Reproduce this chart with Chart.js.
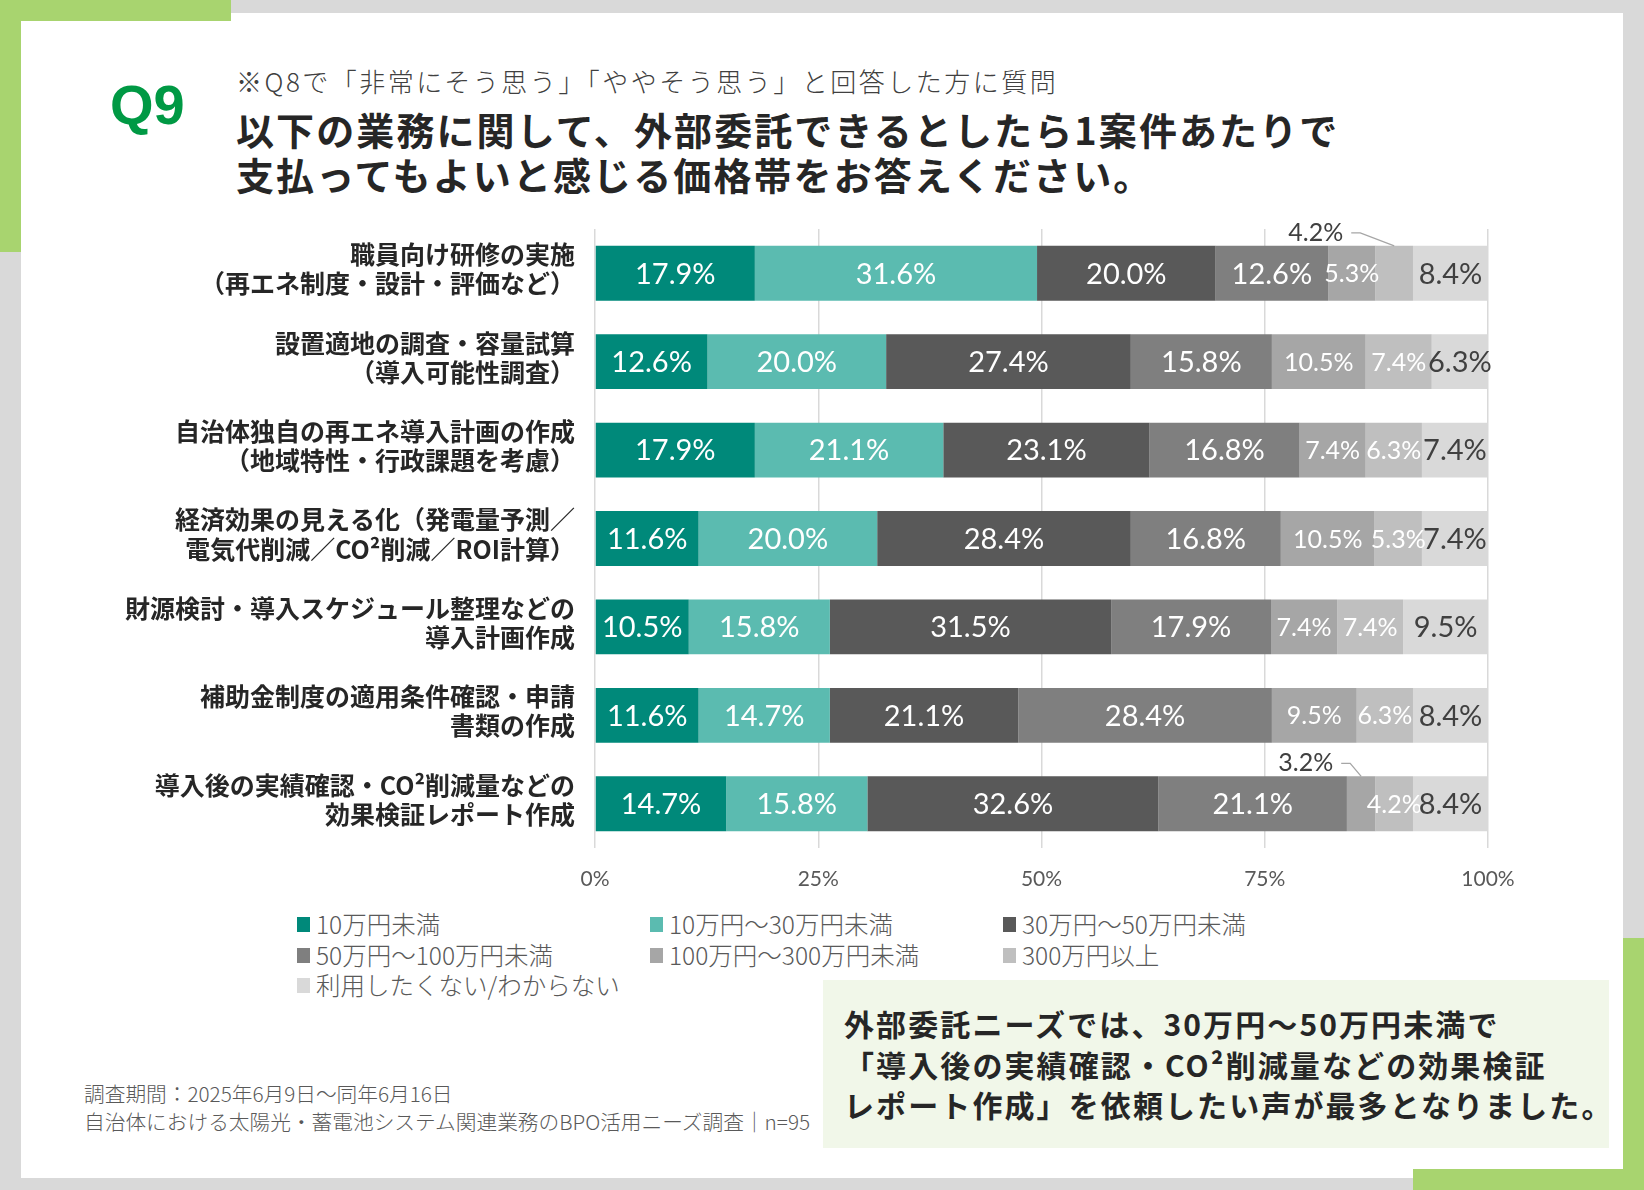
<!DOCTYPE html>
<html lang="ja"><head><meta charset="utf-8">
<script src="https://cdn.jsdelivr.net/npm/chart.js@4.4.1/dist/chart.umd.min.js"></script>
<style>
html,body{margin:0;padding:0;}
body{width:1644px;height:1190px;background:#d9d9d9;position:relative;overflow:hidden;font-family:"Noto Sans CJK JP",sans-serif;}
.panel{position:absolute;left:21px;top:13px;width:1602px;height:1165px;background:#fff;}
.g{position:absolute;background:#a8d46f;}
.abs{position:absolute;white-space:nowrap;}
#q9{left:110px;top:77px;font:bold 56px/56px "Liberation Sans",Arial,sans-serif;color:#009944;}
#sub{left:236px;top:64px;font-weight:300;font-size:26px;line-height:34px;letter-spacing:2.5px;color:#404040;}
#title{left:236px;top:106px;font-weight:700;font-size:38px;line-height:45px;letter-spacing:2.1px;color:#262626;}
#chartWrap{position:absolute;left:40px;top:200px;width:1480px;height:700px;}
.lg{position:absolute;font-weight:300;font-size:24.5px;line-height:30px;color:#595959;white-space:nowrap;}
.lg i{position:absolute;left:-19px;top:8px;width:13px;height:15px;}
#foot{left:84px;top:1079px;font-weight:300;font-size:20.7px;line-height:28px;color:#595959;}
#box{position:absolute;left:823px;top:980px;width:786px;height:168px;background:#f1f7e9;}
#box div{position:absolute;left:21px;top:23px;font-weight:700;font-size:30px;line-height:40.5px;letter-spacing:2.1px;color:#262626;white-space:nowrap;}
</style></head>
<body>
<div class="panel"></div>
<div class="g" style="left:0;top:0;width:231px;height:21px"></div>
<div class="g" style="left:0;top:0;width:21px;height:252px"></div>
<div class="g" style="left:1623px;top:938px;width:21px;height:252px"></div>
<div class="g" style="left:1413px;top:1169px;width:231px;height:21px"></div>
<div class="abs" id="q9">Q9</div>
<div class="abs" id="sub">※Q8で「非常にそう思う」「ややそう思う」と回答した方に質問</div>
<div class="abs" id="title">以下の業務に関して、外部委託できるとしたら1案件あたりで<br>支払ってもよいと感じる価格帯をお答えください。</div>
<div id="chartWrap"><canvas id="c" width="1480" height="700"></canvas></div>
<div id="legend"></div>
<div class="abs" id="foot">調査期間：2025年6月9日～同年6月16日<br>自治体における太陽光・蓄電池システム関連業務のBPO活用ニーズ調査｜n=95</div>
<div id="box"><div>外部委託ニーズでは、30万円～50万円未満で<br>「導入後の実績確認・CO²削減量などの効果検証<br>レポート作成」を依頼したい声が最多となりました。</div></div>
<script>
// ---- data ----
const categories = [
  ['職員向け研修の実施','（再エネ制度・設計・評価など）'],
  ['設置適地の調査・容量試算','（導入可能性調査）'],
  ['自治体独自の再エネ導入計画の作成','（地域特性・行政課題を考慮）'],
  ['経済効果の見える化（発電量予測／','電気代削減／CO²削減／ROI計算）'],
  ['財源検討・導入スケジュール整理などの','導入計画作成'],
  ['補助金制度の適用条件確認・申請','書類の作成'],
  ['導入後の実績確認・CO²削減量などの','効果検証レポート作成']
];
const seriesNames = ['10万円未満','10万円～30万円未満','30万円～50万円未満','50万円～100万円未満','100万円～300万円未満','300万円以上','利用したくない/わからない'];
const under10    = [17.9, 12.6, 17.9, 11.6, 10.5, 11.6, 14.7];
const from10to30 = [31.6, 20.0, 21.1, 20.0, 15.8, 14.7, 15.8];
const from30to50 = [20.0, 27.4, 23.1, 28.4, 31.5, 21.1, 32.6];
const from50to100= [12.6, 15.8, 16.8, 16.8, 17.9, 28.4, 21.1];
const from100to300=[5.3, 10.5, 7.4, 10.5, 7.4, 9.5, 3.2];
const over300    = [4.2, 7.4, 6.3, 5.3, 7.4, 6.3, 4.2];
const noUse      = [8.4, 6.3, 7.4, 7.4, 9.5, 8.4, 8.4];
const xTicks = [0, 25, 50, 75, 100];
// labels drawn outside the bar: [category index, series index]
const outsideLabels = [[0,5],[6,4]];

// ---- styles ----
const colors = ['#00897a','#5bbbb0','#595959','#7f7f7f','#a6a6a6','#bfbfbf','#d9d9d9'];
const labelColors = ['#fff','#fff','#fff','#fff','#fff','#fff','#404040'];
const labelSizes = [29,29,29,29,25,25,29];
const outsideShift = [-51, -28]; // callout text offset (px) for each outside label
const seriesValues = [under10, from10to30, from30to50, from50to100, from100to300, over300, noUse];

const legendEl = document.getElementById('legend');
seriesNames.forEach((n,i)=>{
  const col=i%3,row=Math.floor(i/3);
  const d=document.createElement('div');
  d.className='lg';
  d.style.left=(316+col*353)+'px';
  d.style.top=(909+row*30.5)+'px';
  d.innerHTML='<i style="background:'+colors[i]+'"></i>'+n;
  legendEl.appendChild(d);
});

const segLabels = {
  id:'segLabels',
  afterDatasetsDraw(chart){
    const ctx=chart.ctx;
    chart.data.datasets.forEach((ds,di)=>{
      const meta=chart.getDatasetMeta(di);
      meta.data.forEach((bar,i)=>{
        const v=ds.data[i];
        const txt=v.toFixed(1)+'%';
        const cx=(bar.x+bar.base)/2;
        const oi=outsideLabels.findIndex(p=>p[0]===i&&p[1]===di);
        ctx.save();
        ctx.textBaseline='middle';
        if(oi>=0){
          const top=bar.y-bar.height/2;
          const tx=cx+outsideShift[oi], ty=top-13;
          ctx.font='400 25px Lato';
          ctx.fillStyle='#404040';
          ctx.textAlign='right';
          ctx.fillText(txt,tx,ty);
          ctx.strokeStyle='#a6a6a6';ctx.lineWidth=1.3;
          ctx.beginPath();ctx.moveTo(tx+8,ty);ctx.lineTo(tx+17,ty);ctx.lineTo(cx,top);ctx.stroke();
        } else {
          ctx.font='400 '+labelSizes[di]+'px Lato';
          ctx.fillStyle=labelColors[di];
          ctx.textAlign='center';
          ctx.fillText(txt,cx,bar.y+1);
        }
        ctx.restore();
      });
    });
  }
};

new Chart(document.getElementById('c'),{
  type:'bar',
  data:{
    labels:categories,
    datasets:seriesValues.map((vals,i)=>({
      label:seriesNames[i], data:vals, backgroundColor:colors[i],
      borderWidth:0, barPercentage:0.62, categoryPercentage:1
    }))
  },
  options:{
    indexAxis:'y',
    responsive:false,
    animation:false,
    devicePixelRatio:1,
    layout:{padding:{top:29,right:32,bottom:0,left:0}},
    plugins:{legend:{display:false},tooltip:{enabled:false}},
    scales:{
      x:{
        stacked:true,min:0,max:100,
        afterBuildTicks(scale){scale.ticks=xTicks.map(v=>({value:v}));},
        afterFit(scale){scale.height=52;scale.paddingLeft=0;scale.paddingRight=0;},
        grid:{color:'#d9d9d9',lineWidth:1.5,drawTicks:false},
        border:{display:false},
        ticks:{callback:v=>v+'%',font:{family:'Lato',size:21},color:'#595959',padding:19,maxRotation:0}
      },
      y:{
        stacked:true,
        afterFit(scale){scale.width=555;scale.paddingTop=0;scale.paddingBottom=0;},
        grid:{display:false,drawTicks:false},
        border:{display:false},
        ticks:{font:{family:'"Noto Sans CJK JP"',size:25,weight:'bold',lineHeight:1.17},color:'#262626',padding:20,labelOffset:-4}
      }
    }
  },
  plugins:[segLabels]
});
</script>
</body></html>
